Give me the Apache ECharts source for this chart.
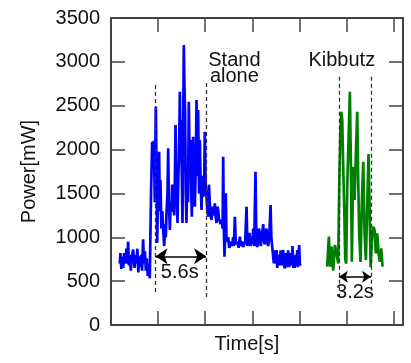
<!DOCTYPE html>
<html>
<head>
<meta charset="utf-8">
<script src="https://cdn.jsdelivr.net/npm/echarts@6/dist/echarts.min.js"></script>
<style>
  html, body { margin: 0; padding: 0; background: #fff; }
  #main { width: 411px; height: 363px; }
</style>
</head>
<body>
<div id="main"></div>
<script>
// stand-alone run (blue), time in s / power in mW
const blueTime = [0.93, 1.0, 1.1, 1.2, 1.3, 1.4, 1.5, 1.64, 1.73, 1.82, 1.9, 2.0, 2.1, 2.2, 2.35, 2.5, 2.6, 2.7, 2.8, 2.9,
  3.0, 3.1, 3.2, 3.3, 3.41, 3.5, 3.6, 3.7, 3.8, 3.9, 4.0, 4.12, 4.25, 4.37, 4.45, 4.55, 4.65, 4.76, 4.83, 4.9,
  5.0, 5.11, 5.18, 5.25, 5.35, 5.45, 5.54, 5.65, 5.75, 5.82, 5.9, 6.0, 6.07, 6.15, 6.25, 6.33, 6.42, 6.5, 6.6, 6.7,
  6.77, 6.85, 6.95, 7.06, 7.15, 7.22, 7.31, 7.38, 7.45, 7.52, 7.59, 7.66, 7.73, 7.8, 7.87, 7.94, 8.01, 8.1, 8.18, 8.26,
  8.35, 8.44, 8.5, 8.58, 8.65, 8.72, 8.8, 8.9, 9.0, 9.08, 9.15, 9.25, 9.35, 9.43, 9.52, 9.61, 9.7, 9.79, 9.88, 9.96,
  10.05, 10.14, 10.23, 10.32, 10.4, 10.49, 10.58, 10.67, 10.75, 10.85, 10.95, 11.02, 11.1, 11.2, 11.3, 11.38, 11.47, 11.56, 11.65, 11.75,
  11.85, 11.91, 11.98, 12.05, 12.12, 12.19, 12.26, 12.33, 12.45, 12.55, 12.62, 12.75, 12.85, 12.97, 13.05, 13.15, 13.25, 13.33, 13.45, 13.55,
  13.68, 13.8, 13.9, 14.03, 14.15, 14.25, 14.39, 14.48, 14.57, 14.7, 14.8, 14.92, 15.0, 15.1, 15.2, 15.34, 15.43, 15.52, 15.62, 15.7,
  15.8, 15.9, 16.0, 16.16, 16.25, 16.33, 16.42, 16.51, 16.6, 16.69, 16.8, 16.94, 17.02, 17.11, 17.2, 17.29, 17.4, 17.5, 17.57, 17.65,
  17.75, 17.85, 17.93, 18.02, 18.12, 18.2, 18.28, 18.37, 18.46, 18.55, 18.65, 18.72, 18.81, 18.9, 18.99, 19.1, 19.18, 19.27, 19.35, 19.45,
  19.52, 19.6, 19.7, 19.77, 19.85, 19.98, 20.05, 20.12];
const bluePower = [700, 820, 640, 780, 650, 820, 700, 870, 700, 950, 680, 800, 620, 760, 860, 650, 800, 700, 870, 600,
  780, 660, 800, 620, 977, 700, 840, 620, 760, 560, 700, 532, 1500, 2090, 1850, 2100, 1400, 2489, 1800, 935,
  1500, 1976, 1300, 1653, 1100, 1300, 1083, 900, 1150, 1000, 1300, 1500, 2014, 1400, 1083, 1400, 1292, 1600, 1463, 1250,
  1550, 2280, 1600, 1163, 1700, 1900, 2660, 1900, 2337, 1700, 1163, 2200, 3192, 2700, 2413, 1500, 1163, 1700, 1400, 2546,
  1900, 2109, 1600, 1235, 1600, 2147, 1700, 1349, 1800, 2565, 1700, 2451, 1500, 2109, 1600, 1311, 1700, 1463, 1500, 2204,
  1600, 1463, 1300, 1235, 1600, 1387, 1250, 1197, 1350, 1250, 1300, 1387, 1250, 1163, 1350, 1311, 1200, 1197, 1150, 1200,
  1100, 1919, 1100, 779, 1000, 1501, 950, 931, 1000, 880, 898, 950, 900, 1000, 900, 1235, 920, 900, 950, 880,
  1007, 900, 950, 890, 920, 950, 1349, 900, 890, 1050, 900, 1000, 920, 1100, 900, 1748, 950, 890, 950, 1100,
  1050, 900, 1000, 1150, 950, 920, 1050, 1100, 950, 900, 1000, 1368, 1000, 900, 800, 703, 850, 700, 855, 650,
  800, 680, 665, 850, 680, 820, 855, 680, 646, 820, 660, 780, 850, 660, 660, 820, 680, 900, 650, 780,
  650, 800, 680, 855, 660, 912, 680, 700];

// kibbutz run (green)
const greenTime = [22.95, 23.13, 23.27, 23.41, 23.59, 23.77, 23.94, 24.12, 24.23, 24.33, 24.44, 24.55, 24.65, 24.76, 24.87,
  24.97, 25.08, 25.22, 25.36, 25.47, 25.57, 25.71, 25.86, 26.0, 26.14, 26.25, 26.35, 26.49, 26.64, 26.78,
  26.92, 27.06, 27.2, 27.34, 27.45, 27.56, 27.7, 27.84, 27.98, 28.12, 28.26, 28.4, 28.55, 28.69, 28.83];
const greenPower = [665, 1007, 665, 893, 620, 912, 817, 700, 1577, 2109, 2432, 2337, 1805, 1349, 741,
  700, 1577, 2109, 2660, 1805, 720, 1805, 1425, 1957, 2432, 1615, 1045, 720, 1425, 1862,
  1045, 741, 1349, 1949, 1349, 660, 969, 1121, 1083, 817, 1045, 817, 720, 874, 665];

// annotations (data units)
const dashTime = [4.73, 10.1, 24.2, 27.6];
const dashTop = [2736, 2760, 2830, 2830];
const dashBottom = [342, 285, 320, 320];
const spanFrom = [4.73, 24.2];
const spanTo = [10.1, 27.6];
const spanLevel = [783, 550];
const spanLabel = ["5.6s", "3.2s"];
const spanLabelPos = [[7.3, 600], [25.9, 370]];
const tagText = ["Stand\nalone", "Kibbutz"];
const tagPos = [[13.1, 2930], [24.5, 3020]];

const yTicks = { min: 0, max: 3500, interval: 500 };
const FONT = "Liberation Sans, Arial, sans-serif";

const chart = echarts.init(document.getElementById("main"));

const zip = (xs, ys) => xs.map((x, i) => [x, ys[i]]);

const dashLines = dashTime.map((t, i) => [
  { coord: [t, dashTop[i]], symbol: "none" },
  { coord: [t, dashBottom[i]], symbol: "none" },
]);
const arrowSizes = [12, 9];
const arrows = spanFrom.map((a, i) => [
  { coord: [a, spanLevel[i]], symbol: "arrow", symbolSize: arrowSizes[i], lineStyle: { type: "solid", color: "#000", width: 1.5 } },
  { coord: [spanTo[i], spanLevel[i]], symbol: "arrow", symbolSize: arrowSizes[i] },
]);

const axisCommon = {
  axisLine: { show: true, onZero: false, lineStyle: { color: "#000", width: 1.5 } },
  axisTick: { show: true, inside: true, length: 14, lineStyle: { color: "#444", width: 1.5 } },
  splitLine: { show: false },
};

const option = {
  animation: false,
  backgroundColor: "#fff",
  grid: { left: 111, right: 8, top: 18, bottom: 38 },
  xAxis: [
    {
      type: "value", min: 0, max: 31, interval: 5, position: "bottom",
      name: "Time[s]", nameLocation: "middle", nameGap: 9,
      nameTextStyle: { fontSize: 20, color: "#111", fontFamily: FONT, padding: [0, 20, 0, 0] },
      axisLabel: { show: false },
      ...axisCommon,
    },
    {
      type: "value", min: 0, max: 31, interval: 5, position: "top",
      axisLabel: { show: false },
      ...axisCommon,
    },
  ],
  yAxis: [
    {
      type: "value", ...yTicks, position: "left",
      name: "Power[mW]", nameLocation: "middle", nameGap: 72,
      nameTextStyle: { fontSize: 20, color: "#111", fontFamily: FONT },
      axisLabel: { fontSize: 20, color: "#111", fontFamily: FONT, margin: 11, formatter: (v) => String(v) },
      ...axisCommon,
    },
    {
      type: "value", ...yTicks, position: "right",
      axisLabel: { show: false },
      ...axisCommon,
    },
  ],
  series: [
    {
      name: "Stand alone", type: "line", showSymbol: false, symbol: "none",
      data: zip(blueTime, bluePower),
      lineStyle: { color: "#0000ff", width: 2.7 }, itemStyle: { color: "#0000ff" },
    },
    {
      name: "Kibbutz", type: "line", showSymbol: false, symbol: "none",
      data: zip(greenTime, greenPower),
      lineStyle: { color: "#008000", width: 2.7 }, itemStyle: { color: "#008000" },
    },
    {
      name: "marks", type: "line", data: [], silent: true,
      markLine: {
        silent: true, animation: false,
        label: { show: false },
        lineStyle: { type: [4, 3], color: "#333", width: 1.3 },
        data: dashLines.concat(arrows),
      },
    },
    {
      name: "labels", type: "scatter", symbolSize: 0, silent: true,
      itemStyle: { opacity: 1 },
      data: spanLabelPos.map((p, i) => ({ value: p, name: spanLabel[i] }))
        .concat(tagPos.map((p, i) => ({ value: p, name: tagText[i] }))),
      label: {
        show: true, position: "inside", formatter: "{b}",
        fontSize: 20, lineHeight: 16, color: "#111", fontFamily: FONT, opacity: 1,
      },
    },
  ],
};

chart.setOption(option);
</script>
</body>
</html>
